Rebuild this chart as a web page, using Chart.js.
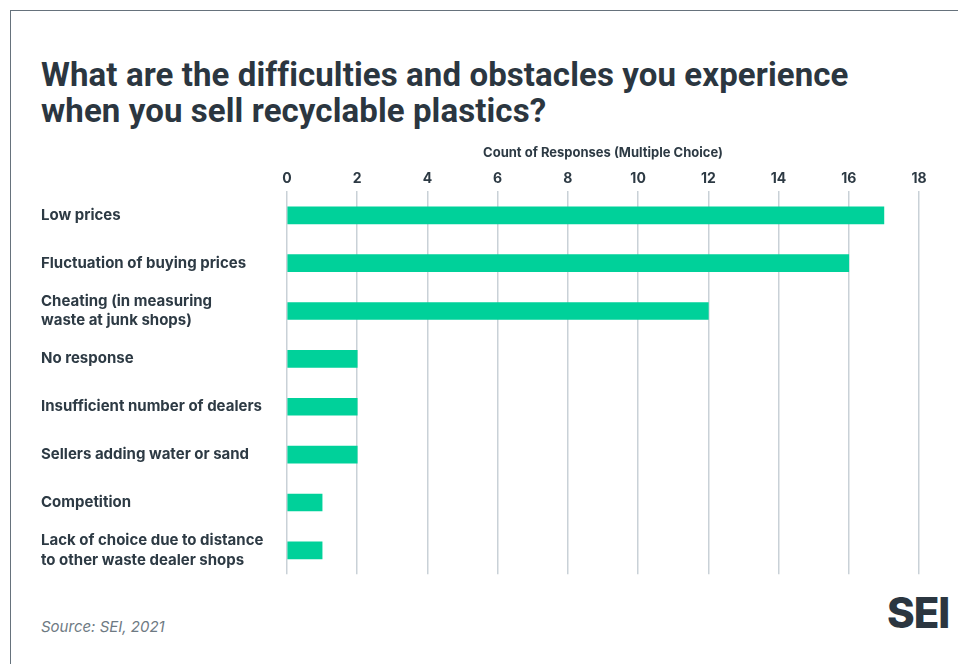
<!DOCTYPE html>
<html>
<head>
<meta charset="utf-8">
<script src="https://cdn.jsdelivr.net/npm/chart.js@4"></script>
<style>
  html, body { margin: 0; padding: 0; background: #fff; }
  body { width: 958px; height: 664px; position: relative; overflow: hidden; font-family: Inter, "Noto Sans", sans-serif; }
  .frame { position: absolute; left: 10px; top: 10px; right: -2px; bottom: -2px; border-left: 1px solid #66727c; border-top: 1px solid #66727c; }
  h1 { position: absolute; left: 41px; top: 57px; margin: 0; font-family: Roboto, sans-serif; font-weight: 700; font-size: 33px; line-height: 36px; color: #2b3640; letter-spacing: 0.1px; }
  .source { position: absolute; left: 41px; top: 617px; font-size: 15px; font-style: italic; color: #6e7a83; }
  .logo { position: absolute; left: 887px; top: 587px; font-size: 42px; font-weight: 800; color: #2b3640; letter-spacing: -1px; }
  .chart-box { position: absolute; left: 41px; top: 145px; width: 898px; height: 442px; }
</style>
</head>
<body>
<div class="frame"></div>
<h1>What are the difficulties and obstacles you experience<br>when you sell recyclable plastics?</h1>
<div class="chart-box"><canvas id="difficulties-chart"></canvas></div>
<div class="source">Source: SEI, 2021</div>
<div class="logo">SEI</div>
<script>
// chart data
const categories = [
	['Low prices'],
	['Fluctuation of buying prices'],
	['Cheating (in measuring', 'waste at junk shops)'],
	['No response'],
	['Insufficient number of dealers'],
	['Sellers adding water or sand'],
	['Competition'],
	['Lack of choice due to distance', 'to other waste dealer shops']
];
const responseCounts = [17, 16, 12, 2, 2, 2, 1, 1];
const xTicks = [0, 2, 4, 6, 8, 10, 12, 14, 16, 18];

document.addEventListener('DOMContentLoaded', function () {
	const ctx = document.getElementById('difficulties-chart');
	const textColor = '#2d3a44';
	new Chart(ctx, {
		type: 'bar',
		data: {
			labels: categories,
			datasets: [{
				data: responseCounts,
				backgroundColor: '#00d19a',
				barThickness: 17,
				borderWidth: 0
			}]
		},
		options: {
			indexAxis: 'y',
			responsive: true,
			maintainAspectRatio: false,
			animation: false,
			layout: { padding: { right: 20, bottom: 4 } },
			plugins: {
				legend: { display: false },
				tooltip: { enabled: false }
			},
			scales: {
				x: {
					position: 'top',
					min: 0,
					max: 18,
					afterBuildTicks: function (scale) {
						scale.ticks = xTicks.map(v => ({ value: v }));
					},
					grid: { color: '#c9d1d7', lineWidth: 1.5, drawTicks: false },
					border: { display: false },
					ticks: {
						color: textColor,
						padding: 4,
						font: { family: 'Inter, sans-serif', size: 14, weight: '700' }
					},
					title: {
						display: true,
						text: 'Count of Responses (Multiple Choice)',
						color: textColor,
						padding: { top: 0, bottom: 6 },
						font: { family: 'Inter, sans-serif', size: 13, weight: '700' }
					}
				},
				y: {
					grid: { display: false },
					border: { display: false },
					afterFit: function (scale) {
						scale.width = 246;
					},
					ticks: {
						crossAlign: 'far',
						color: textColor,
						font: { family: 'Inter, sans-serif', size: 15, weight: '700', lineHeight: 1.3 }
					}
				}
			}
		}
	});
});
</script>
</body>
</html>
